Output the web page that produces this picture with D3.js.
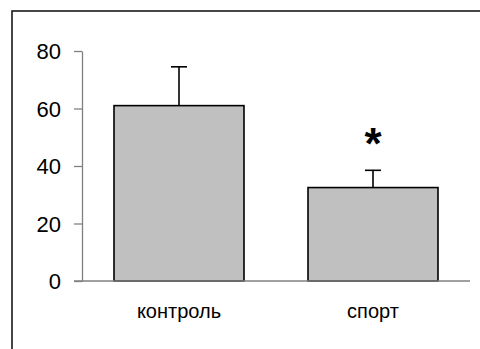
<!DOCTYPE html>
<html>
<head>
<meta charset="utf-8">
<script src="https://cdn.jsdelivr.net/npm/d3@7"></script>
<style>
  html, body { margin: 0; padding: 0; background: #fff; }
  svg { display: block; }
</style>
</head>
<body>
<svg id="chart" width="480" height="349"></svg>
<script>
// Group means with their upper error bars
const categories = ["контроль", "спорт"];
const means = [61, 32.5];
const errors = [13.5, 6];
const significant = [false, true];
const yTicks = [0, 20, 40, 60, 80];

const svg = d3.select("#chart");
const W = 480, H = 349;
const plotLeft = 82, plotRight = 470, plotTop = 51, plotBottom = 281;

// Outer frame (continues past right and bottom edges)
svg.append("rect")
  .attr("x", 12).attr("y", 11)
  .attr("width", W + 10).attr("height", H + 10)
  .attr("fill", "none")
  .attr("stroke", "#1a1a1a")
  .attr("stroke-width", 1.6);

const x = d3.scaleBand()
  .domain(categories)
  .range([plotLeft, plotRight])
  .paddingInner(0.33)
  .paddingOuter(0.165);

const y = d3.scaleLinear().domain([0, 80]).range([plotBottom, plotTop]);

// Y axis
const yAxis = svg.append("g")
  .attr("transform", `translate(${plotLeft},0)`)
  .call(d3.axisLeft(y).tickValues(yTicks).tickSize(8).tickPadding(13).tickSizeOuter(0));
yAxis.select(".domain").attr("stroke", "#808080").attr("stroke-width", 1.3);
yAxis.selectAll(".tick line").attr("stroke", "#808080").attr("stroke-width", 1.3);
yAxis.selectAll(".tick text")
  .attr("fill", "#000")
  .attr("dy", "0.35em")
  .style("font-family", "'Liberation Sans', Arial, sans-serif")
  .style("font-size", "22px");

// Error bars (upper only)
const cap = 16;
const eb = svg.append("g").attr("stroke", "#000").attr("stroke-width", 1.6);
categories.forEach((c, i) => {
  const cx = x(c) + x.bandwidth() / 2;
  eb.append("line")
    .attr("x1", cx).attr("x2", cx)
    .attr("y1", y(means[i])).attr("y2", y(means[i] + errors[i]));
  eb.append("line")
    .attr("x1", cx - cap / 2).attr("x2", cx + cap / 2)
    .attr("y1", y(means[i] + errors[i])).attr("y2", y(means[i] + errors[i]));
});

// Bars
svg.append("g").selectAll("rect")
  .data(categories)
  .join("rect")
  .attr("x", d => x(d))
  .attr("y", (d, i) => y(means[i]))
  .attr("width", x.bandwidth())
  .attr("height", (d, i) => y(0) - y(means[i]))
  .attr("fill", "#c0c0c0")
  .attr("stroke", "#000")
  .attr("stroke-width", 1.6);

// Baseline
svg.append("line")
  .attr("x1", plotLeft - 8).attr("x2", plotRight)
  .attr("y1", y(0)).attr("y2", y(0))
  .attr("stroke", "#808080")
  .attr("stroke-width", 1.3);

// Category labels
svg.append("g").selectAll("text")
  .data(categories)
  .join("text")
  .attr("x", d => x(d) + x.bandwidth() / 2)
  .attr("y", 318)
  .attr("text-anchor", "middle")
  .style("font-family", "'Liberation Sans', Arial, sans-serif")
  .style("font-size", "20px")
  .text(d => d);

// Significance marks
svg.append("g").selectAll("text")
  .data(categories.filter((c, i) => significant[i]))
  .join("text")
  .attr("x", d => x(d) + x.bandwidth() / 2)
  .attr("y", 159)
  .attr("text-anchor", "middle")
  .style("font-family", "'Liberation Sans', Arial, sans-serif")
  .style("font-weight", "bold")
  .style("font-size", "44px")
  .text("*");
</script>
</body>
</html>
